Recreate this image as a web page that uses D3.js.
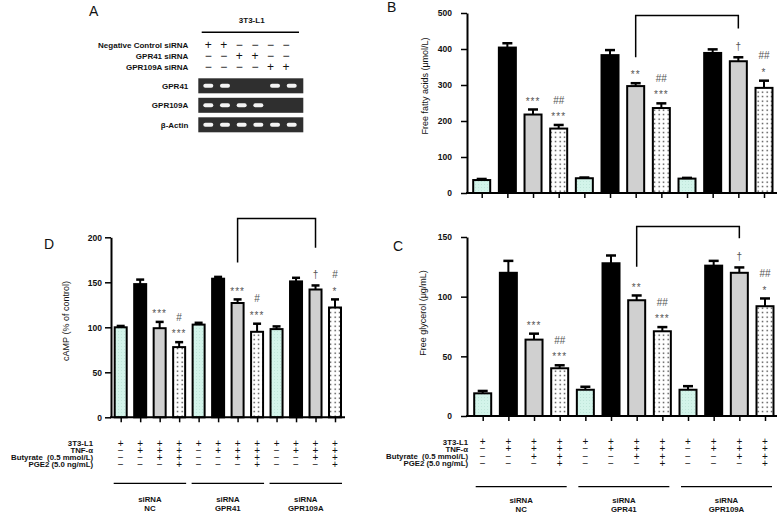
<!DOCTYPE html>
<html><head><meta charset="utf-8">
<script src="https://cdn.jsdelivr.net/npm/d3@7/dist/d3.min.js"></script>
<style>
body{margin:0;background:#fff}
svg{display:block}
text{font-family:"Liberation Sans",Arial,Helvetica,sans-serif}
</style>
</head><body>
<svg id="fig" width="778" height="515"></svg>
<script>
// ---------------- data ----------------
const groupNames = [["siRNA","NC"],["siRNA","GPR41"],["siRNA","GPR109A"]];
const treatments = ["Control","TNF-α","TNF-α+Butyrate","TNF-α+Butyrate+PGE2"];
const barKeys = groupNames.flatMap(g => treatments.map(t => g[1] + "|" + t));

// Panel B: free fatty acids (µmol/L)
const ffaValues = [36, 404, 218, 179, 41, 383, 297, 236, 40, 389, 366, 292];
const ffaErrors = [3, 12, 14, 10, 2, 14, 8, 13, 2, 10, 11, 20];
const ffaTicks  = [0, 100, 200, 300, 400, 500];
const ffaMarks  = [[2,["***"]],[3,["***","##"]],[6,["**"]],[7,["***","##"]],[10,["†"]],[11,["*","##"]]];
const ffaBracket = [6, 10, 493, 377, 457];   // left bar, right bar, top value, left end, right end

// Panel C: free glycerol (µg/mL)
const glyValues = [19, 120, 64, 40, 22, 128, 97, 71, 22, 126, 120, 92];
const glyErrors = [2, 10, 5, 2.5, 2.5, 6.5, 4, 3.5, 3, 4, 4.5, 6.5];
const glyTicks  = [0, 50, 100, 150];
const glyMarks  = [[2,["***"]],[3,["***","##"]],[6,["**"]],[7,["***","##"]],[10,["†"]],[11,["*","##"]]];
const glyBracket = [6, 10, 158.7, 125, 149];

// Panel D: cAMP (% of control)
const campValues = [100, 148, 99, 78, 103, 154, 127, 95, 98, 151, 142, 122];
const campErrors = [1.5, 5, 7, 5.5, 2, 2, 4, 9, 3, 4, 4.5, 9];
const campTicks  = [0, 50, 100, 150, 200];
const campMarks  = [[2,["***"]],[3,["***","#"]],[6,["***"]],[7,["***","#"]],[10,["†"]],[11,["*","#"]]];
const campBracket = [6, 10, 221, 172, 188.5];

// treatment table
const tableRows = ["3T3-L1", "TNF-α", "Butyrate  (0.5 mmol/L)", "PGE2 (5.0 ng/mL)"];
const tableSigns = [
  ["+","+","+","+","+","+","+","+","+","+","+","+"],
  ["−","+","+","+","−","+","+","+","−","+","+","+"],
  ["−","−","+","+","−","−","+","+","−","−","+","+"],
  ["−","−","−","+","−","−","−","+","−","−","−","+"]
];

// Panel A: RT-PCR gel
const gelLanes = ["1","2","3","4","5","6"];
const sirnaRows = ["Negative Control siRNA", "GPR41 siRNA", "GPR109A siRNA"];
const sirnaSigns = [
  ["+","+","−","−","−","−"],
  ["−","−","+","+","−","−"],
  ["−","−","−","−","+","+"]
];
const gelRows = ["GPR41", "GPR109A", "β-Actin"];
const gelBands = [
  [1,1,0,0,1,1],
  [1,1,1,1,0,0],
  [1,1,1,1,1,1]
];

// ---------------- drawing ----------------
const svg = d3.select("#fig");
const defs = svg.append("defs");
const pat = defs.append("pattern").attr("id","dots").attr("patternUnits","userSpaceOnUse")
  .attr("width",4.5).attr("height",4.5);
pat.append("rect").attr("width",4.5).attr("height",4.5).attr("fill","#fff");
pat.append("rect").attr("x",1.5).attr("y",1.5).attr("width",1.3).attr("height",1.3).attr("fill","#222");
const cpat = defs.append("pattern").attr("id","cdots").attr("patternUnits","userSpaceOnUse")
  .attr("width",3).attr("height",3);
cpat.append("rect").attr("width",3).attr("height",3).attr("fill","#d3f4ea");
cpat.append("rect").attr("x",1).attr("y",1).attr("width",1).attr("height",1).attr("fill","#bfe6da");

const barFills = ["url(#cdots)", "#000", "#d0d0d0", "url(#dots)"];
const glyphShift = t => t[0] === "*" ? 5.6 : (t[0] === "#" ? 3.6 : 2.8);

function barPanel(cfg) {
  const g = svg.append("g");
  const y = d3.scaleLinear().domain([0, cfg.max]).range([cfg.y0, cfg.yTop]);
  const x = d3.scalePoint().domain(barKeys).range([cfg.x0, cfg.x1]);

  // bars
  g.selectAll("rect.bar").data(cfg.values).join("rect").attr("class","bar")
    .attr("x", (d,i) => x(barKeys[i]) - cfg.barW/2 + 1)
    .attr("y", d => y(d))
    .attr("width", cfg.barW - 2)
    .attr("height", d => y(0) - y(d))
    .attr("fill", (d,i) => barFills[i % 4])
    .attr("stroke", "#000").attr("stroke-width", 2);

  // error bars
  const eb = g.selectAll("g.err").data(cfg.values).join("g").attr("class","err");
  eb.append("line")
    .attr("x1",(d,i)=>x(barKeys[i])).attr("x2",(d,i)=>x(barKeys[i]))
    .attr("y1",d=>y(d)).attr("y2",(d,i)=>y(d+cfg.errors[i]))
    .attr("stroke","#000").attr("stroke-width",2);
  eb.append("line")
    .attr("x1",(d,i)=>x(barKeys[i]) - cfg.capW/2).attr("x2",(d,i)=>x(barKeys[i]) + cfg.capW/2)
    .attr("y1",(d,i)=>y(d+cfg.errors[i])).attr("y2",(d,i)=>y(d+cfg.errors[i]))
    .attr("stroke","#000").attr("stroke-width",2.5);

  // y axis
  const ya = g.append("g").attr("transform",`translate(${cfg.axisX},0)`)
    .call(d3.axisLeft(y).tickValues(cfg.ticks).tickSize(6).tickSizeOuter(0).tickPadding(cfg.pad).tickFormat(d3.format("d")));
  ya.select(".domain").attr("stroke-width",2);
  ya.selectAll(".tick line").attr("stroke-width",1.5);
  ya.selectAll(".tick text").attr("font-size",8.5).attr("font-weight","bold")
    .attr("font-family","'Liberation Sans',Arial,sans-serif").attr("fill","#111");

  // x axis
  const xa = g.append("g").attr("transform",`translate(0,${cfg.y0})`)
    .call(d3.axisBottom(x).tickSize(5).tickSizeOuter(0).tickFormat(""));
  xa.select(".domain").remove();
  xa.selectAll(".tick line").attr("stroke-width",1.5);
  g.append("line").attr("x1",cfg.axisX-1).attr("x2",cfg.xEnd).attr("y1",y(0)).attr("y2",y(0))
    .attr("stroke","#000").attr("stroke-width",2);

  // y title
  g.append("text").attr("transform",`translate(${cfg.titleX},${cfg.titleY}) rotate(-90)`)
    .attr("text-anchor","middle").attr("font-size",9).attr("fill","#111").text(cfg.title);

  // panel letter
  g.append("text").attr("x",cfg.letterX).attr("y",cfg.letterY).attr("font-size",14).attr("fill","#111").text(cfg.letter);

  // significance marks
  cfg.marks.forEach(([i, texts]) => {
    const capY = y(cfg.values[i] + cfg.errors[i]);
    texts.forEach((t, k) => {
      const cy = capY - 10.5 - 14.5*k;
      g.append("text").attr("x", x(barKeys[i])).attr("y", cy + glyphShift(t))
        .attr("text-anchor","middle").attr("font-size",10).attr("fill","#555")
        .attr("letter-spacing", t[0]==="*" ? 1 : 0).text(t);
    });
  });

  // bracket
  const [bl, br, bt, ble, bre] = cfg.bracket;
  g.append("path")
    .attr("d", `M${x(barKeys[bl])},${y(ble)}V${y(bt)}H${x(barKeys[br])}V${y(bre)}`)
    .attr("fill","none").attr("stroke","#000").attr("stroke-width",1.5);

  // treatment table
  if (cfg.table) {
    const tb = cfg.table;
    tableRows.forEach((lab, r) => {
      const cy = tb.rowY0 + r*tb.rowStep;
      g.append("text").attr("x", tb.labelX).attr("y", cy + 2.8).attr("text-anchor","end")
        .attr("font-size",7.8).attr("font-weight","bold").attr("fill","#111").attr("xml:space","preserve").text(lab);
      tableSigns[r].forEach((s, i) => {
        g.append("text").attr("x", x(barKeys[i])).attr("y", cy + 3.4)
          .attr("text-anchor","middle").attr("font-size",10).attr("fill","#111").text(s);
      });
    });
    groupNames.forEach((gn, gi) => {
      const xa0 = x(barKeys[gi*4]) - tb.ext, xa1 = x(barKeys[gi*4+3]) + tb.ext;
      g.append("line").attr("x1",xa0).attr("x2",xa1).attr("y1",tb.lineY).attr("y2",tb.lineY)
        .attr("stroke","#000").attr("stroke-width",1.2);
      gn.forEach((t, k) => {
        g.append("text").attr("x",(xa0+xa1)/2).attr("y", tb.nameY + k*tb.nameStep + 2.8)
          .attr("text-anchor","middle").attr("font-size",7.8).attr("font-weight","bold").attr("fill","#111").text(t);
      });
    });
  }
}

// Panel B
barPanel({values: ffaValues, errors: ffaErrors, ticks: ffaTicks, marks: ffaMarks, bracket: ffaBracket,
  max: 500, y0: 193, yTop: 13, x0: 481.7, x1: 764, barW: 19, capW: 10, axisX: 467, xEnd: 777, pad: 9,
  title: "Free fatty acids (μmol/L)", titleX: 428, titleY: 86, letter: "B", letterX: 387, letterY: 12});

// Panel C
barPanel({values: glyValues, errors: glyErrors, ticks: glyTicks, marks: glyMarks, bracket: glyBracket,
  max: 150, y0: 416, yTop: 237, x0: 482.7, x1: 765, barW: 19, capW: 10, axisX: 467, xEnd: 777, pad: 9,
  title: "Free glycerol  (μg/mL)", titleX: 426, titleY: 313, letter: "C", letterX: 393, letterY: 251,
  table: {rowY0: 441.7, rowStep: 7.2, labelX: 468, lineY: 486.7, ext: 7, nameY: 500, nameStep: 9.5}});

// Panel D
barPanel({values: campValues, errors: campErrors, ticks: campTicks, marks: campMarks, bracket: campBracket,
  max: 200, y0: 417.3, yTop: 237.3, x0: 120.7, x1: 335, barW: 14, capW: 8, axisX: 111, xEnd: 345, pad: 3,
  title: "cAMP (% of control)", titleX: 69, titleY: 321, letter: "D", letterX: 44, letterY: 249,
  table: {rowY0: 443.3, rowStep: 7, labelX: 93, lineY: 483.3, ext: 7, nameY: 499, nameStep: 9}});

// Panel A (gel)
(function(){
  const g = svg.append("g");
  g.append("text").attr("x",89).attr("y",15.5).attr("font-size",14).attr("fill","#111").text("A");
  g.append("text").attr("x",251.7).attr("y",23).attr("text-anchor","middle")
    .attr("font-size",8).attr("font-weight","bold").attr("fill","#111").text("3T3-L1");
  g.append("line").attr("x1",201.7).attr("x2",299).attr("y1",32.3).attr("y2",32.3)
    .attr("stroke","#000").attr("stroke-width",1.5);
  const xs = d3.scalePoint().domain(gelLanes).range([208.3, 286]);
  const xb = d3.scalePoint().domain(gelLanes).range([208.3, 291.7]);
  const rowY = d3.scalePoint().domain(sirnaRows).range([44.8, 67]);
  sirnaRows.forEach((lab, r) => {
    g.append("text").attr("x",188.3).attr("y",rowY(lab)+3).attr("text-anchor","end")
      .attr("font-size",8).attr("font-weight","bold").attr("fill","#111").text(lab);
    sirnaSigns[r].forEach((s, i) => {
      g.append("text").attr("x",xs(gelLanes[i])).attr("y",rowY(lab)+4).attr("text-anchor","middle")
        .attr("font-size",12).attr("fill","#111").text(s);
    });
  });
  const gy = d3.scalePoint().domain(gelRows).range([85.8, 124.8]);
  gelRows.forEach((lab, r) => {
    const cy = gy(lab);
    g.append("text").attr("x",188.3).attr("y",cy+3).attr("text-anchor","end")
      .attr("font-size",8).attr("font-weight","bold").attr("fill","#111").text(lab);
    g.append("rect").attr("x",198.3).attr("y",cy-7.5).attr("width",105).attr("height",15).attr("fill","#2f2f2f");
    gelBands[r].forEach((b, i) => {
      if (!b) return;
      g.append("rect").attr("x",xb(gelLanes[i])-5).attr("y",cy-2).attr("width",10).attr("height",4)
        .attr("rx",2).attr("fill","#f4f4f4");
    });
  });
})();
</script>
</body></html>
